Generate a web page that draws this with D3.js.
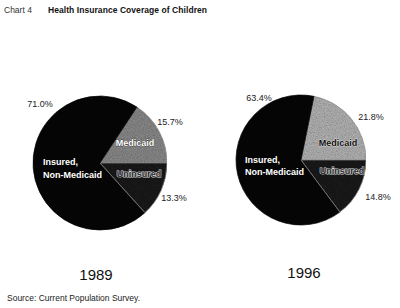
<!DOCTYPE html>
<html>
<head>
<meta charset="utf-8">
<script src="https://cdn.jsdelivr.net/npm/d3@7"></script>
<style>
  body { margin: 0; background: #fff; }
  svg { display: block; font-family: "Liberation Sans", Arial, sans-serif; }
</style>
</head>
<body>
<div id="chart"></div>
<script>
// Chart values
const years = ['1989', '1996'];
const categories = ['Medicaid', 'Uninsured', 'Insured, Non-Medicaid'];
const values1989 = [15.7, 13.3, 71.0];
const values1996 = [21.8, 14.8, 63.4];
const pctLabels1989 = ['15.7%', '13.3%', '71.0%'];
const pctLabels1996 = ['21.8%', '14.8%', '63.4%'];

const width = 400, height = 308;

const svg = d3.select('#chart').append('svg')
    .attr('width', width)
    .attr('height', height);

// grain filter for the scanned halftone look
const defs = svg.append('defs');
const f = defs.append('filter').attr('id', 'grain').attr('x', 0).attr('y', 0).attr('width', 1).attr('height', 1);
f.append('feTurbulence').attr('type', 'fractalNoise').attr('baseFrequency', 0.9).attr('numOctaves', 2).attr('seed', 3).attr('result', 'n');
f.append('feColorMatrix').attr('in', 'n').attr('type', 'saturate').attr('values', 0).attr('result', 'g');
f.append('feComposite').attr('in', 'g').attr('in2', 'SourceGraphic').attr('operator', 'in').attr('result', 'gm');
f.append('feBlend').attr('in', 'SourceGraphic').attr('in2', 'gm').attr('mode', 'multiply');

// Title
svg.append('text').attr('x', 4).attr('y', 13).attr('font-size', 8.5).attr('fill', '#333').text('Chart 4');
svg.append('text').attr('x', 48).attr('y', 13).attr('font-size', 8.5).attr('font-weight', 'bold')
    .attr('fill', '#111').attr('textLength', 159).text('Health Insurance Coverage of Children');

// per-pie layout
const pies = [
  { year: years[0], values: values1989, labels: pctLabels1989, cx: 100, cy: 163, r: 67,
    medFill: '#8e8e8e', medText: '#fff', medStroke: '#111',
    pctPos: [[170, 125], [174, 201], [40, 107]],
    medPos: [135, 146], uniPos: [139, 177], insPos: [[43, 165], [43, 178]], yearPos: [96, 280] },
  { year: years[1], values: values1996, labels: pctLabels1996, cx: 301, cy: 160, r: 65,
    medFill: '#b9b9b9', medText: '#111', medStroke: '#fff',
    pctPos: [[371, 120], [378, 200], [259, 101]],
    medPos: [338, 146], uniPos: [342, 174], insPos: [[245, 163], [245, 175]], yearPos: [304, 278] }
];

const colors = d3.scaleOrdinal().domain(categories).range(['#8e8e8e', '#1c1c1c', '#050505']);

pies.forEach(p => {
  const medAngle = p.values[0] / 100 * 2 * Math.PI;
  const pie = d3.pie().sort(null)
      .startAngle(Math.PI / 2 - medAngle)
      .endAngle(Math.PI / 2 - medAngle + 2 * Math.PI);
  const arc = d3.arc().innerRadius(0).outerRadius(p.r);
  const arcs = pie(p.values);

  const g = svg.append('g').attr('transform', `translate(${p.cx},${p.cy})`);
  g.selectAll('path')
    .data(arcs)
    .enter().append('path')
    .attr('d', arc)
    .attr('fill', (d, i) => i === 0 ? p.medFill : colors(categories[i]))
    .attr('filter', (d, i) => i === 2 ? null : 'url(#grain)')
    .attr('stroke', (d, i) => i === 2 ? '#050505' : '#9a9a9a')
    .attr('stroke-width', 0.7);
  // thin light divider between uninsured and insured
  const bnd = arcs[1].endAngle;
  g.append('line')
    .attr('x1', 0).attr('y1', 0)
    .attr('x2', p.r * Math.sin(bnd)).attr('y2', -p.r * Math.cos(bnd))
    .attr('stroke', '#9a9a9a').attr('stroke-width', 0.7);

  // percentage labels
  svg.selectAll(null)
    .data(p.labels)
    .enter().append('text')
    .attr('x', (d, i) => p.pctPos[i][0])
    .attr('y', (d, i) => p.pctPos[i][1])
    .attr('text-anchor', 'middle')
    .attr('font-size', 9)
    .attr('fill', '#222')
    .text(d => d);

  // slice names
  svg.append('text').attr('x', p.medPos[0]).attr('y', p.medPos[1])
    .attr('text-anchor', 'middle').attr('font-size', 9).attr('font-weight', 'bold')
    .attr('fill', p.medText).attr('stroke', p.medStroke).attr('stroke-width', 0.5)
    .attr('paint-order', 'stroke').text(categories[0]);
  svg.append('text').attr('x', p.uniPos[0]).attr('y', p.uniPos[1])
    .attr('text-anchor', 'middle').attr('font-size', 9).attr('font-weight', 'bold')
    .attr('fill', '#2a2a2a').attr('stroke', '#d8d8d8').attr('stroke-width', 1.2)
    .attr('paint-order', 'stroke').text(categories[1]);
  const insParts = categories[2].split(' ');
  insParts.forEach((t, i) => {
    svg.append('text').attr('x', p.insPos[i][0]).attr('y', p.insPos[i][1])
      .attr('font-size', 9).attr('font-weight', 'bold')
      .attr('fill', '#fff').text(t);
  });

  // year label
  svg.append('text').attr('x', p.yearPos[0]).attr('y', p.yearPos[1])
    .attr('text-anchor', 'middle').attr('font-size', 15).attr('fill', '#111').text(p.year);
});

// Source note
svg.append('text').attr('x', 7).attr('y', 301).attr('font-size', 8.5).attr('fill', '#222')
    .text('Source: Current Population Survey.');
</script>
</body>
</html>
